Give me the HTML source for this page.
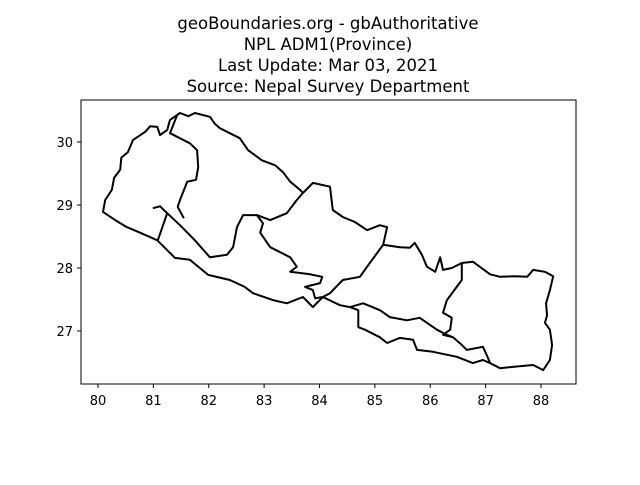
<!DOCTYPE html>
<html><head><meta charset="utf-8"><style>
html,body{margin:0;padding:0;background:#fff}
svg text{font-family:"DejaVu Sans","Liberation Sans",sans-serif;fill:#000}
</style></head><body>
<svg id="chart" width="640" height="480" viewBox="0 0 640 480" xmlns="http://www.w3.org/2000/svg">
<rect width="640" height="480" fill="#fff"/>
<g font-size="16.5" text-anchor="middle">
<text x="328" y="29">geoBoundaries.org - gbAuthoritative</text>
<text x="328" y="50">NPL ADM1(Province)</text>
<text x="328" y="71">Last Update: Mar 03, 2021</text>
<text x="328" y="92">Source: Nepal Survey Department</text>
</g>
<g id="shapes"></g>
<rect x="81" y="100" width="495" height="284" fill="none" stroke="#000" stroke-width="1"/>
<g id="xaxis"></g>
<g id="yaxis"></g>
</svg>
<script>
const xTicks=[80,81,82,83,84,85,86,87,88];
const yTicks=[27,28,29,30];
const outerLon=[80.09,80.13,80.25,80.29,80.40,80.42,80.54,80.63,80.85,80.94,81.07,81.12,81.25,81.30,81.43,81.48,81.63,81.75,82.02,82.11,82.20,82.38,82.56,82.71,82.96,83.20,83.34,83.47,83.65,83.70,83.88,84.19,84.24,84.42,84.64,84.86,85.09,85.22,85.15,85.45,85.63,85.72,85.85,85.94,86.09,86.18,86.23,86.39,86.57,86.77,87.08,87.26,87.53,87.75,87.86,88.07,88.22,88.16,88.09,88.11,88.07,88.16,88.20,88.16,88.04,87.86,87.49,87.26,87.08,86.95,86.77,86.48,86.05,85.76,85.69,85.45,85.22,85.09,84.82,84.70,84.70,84.55,84.37,84.06,83.88,83.70,83.41,83.16,82.80,82.65,82.38,81.99,81.66,81.39,81.30,81.07,80.76,80.52,80.31];
const outerLat=[28.89,29.08,29.24,29.43,29.56,29.75,29.84,30.03,30.16,30.25,30.24,30.11,30.19,30.35,30.43,30.46,30.41,30.46,30.40,30.29,30.22,30.14,30.06,29.87,29.71,29.63,29.52,29.37,29.24,29.19,29.35,29.29,28.92,28.81,28.73,28.60,28.68,28.65,28.37,28.33,28.32,28.40,28.21,28.02,27.94,28.17,27.97,28.00,28.08,28.10,27.90,27.86,27.87,27.86,27.97,27.94,27.87,27.65,27.44,27.25,27.13,27.02,26.78,26.54,26.38,26.46,26.43,26.41,26.49,26.54,26.49,26.59,26.67,26.70,26.86,26.89,26.81,26.90,27.02,27.06,27.33,27.38,27.41,27.54,27.38,27.54,27.44,27.49,27.60,27.70,27.81,27.89,28.13,28.16,28.24,28.44,28.56,28.65,28.76];
const borderSudKarLon=[81.43,81.30,81.66,81.79,81.81,81.77,81.61,81.48,81.44,81.55];
const borderSudKarLat=[30.43,30.14,29.98,29.87,29.60,29.40,29.37,29.08,28.97,28.79];
const borderSudLumLon=[80.99,81.12,81.25,81.08];
const borderSudLumLat=[28.95,28.98,28.87,28.44];
const borderKarLumLon=[81.25,81.48,81.75,82.02,82.33,82.44,82.51,82.62,82.87,83.11,83.41,83.59,83.70];
const borderKarLumLat=[28.87,28.68,28.44,28.17,28.21,28.33,28.65,28.84,28.84,28.76,28.87,29.08,29.19];
const borderGanLumLon=[82.87,82.98,82.93,83.11,83.47,83.59,83.47,83.83,84.05,84.01,83.74,83.88,83.92,84.06];
const borderGanLumLat=[28.84,28.71,28.56,28.33,28.17,28.02,27.94,27.90,27.86,27.76,27.70,27.65,27.52,27.54];
const borderGanBagLon=[85.15,84.86,84.73,84.42,84.19,84.06];
const borderGanBagLat=[28.37,28.02,27.86,27.81,27.60,27.54];
const borderBagMadLon=[84.55,84.79,85.09,85.27,85.58,85.81,86.12,86.30,86.41];
const borderBagMadLat=[27.38,27.44,27.33,27.22,27.17,27.21,27.02,26.94,26.90];
const borderKoshiLon=[86.57,86.57,86.30,86.23,86.39,86.36,86.23,86.41,86.57,86.66,86.95,87.02,87.08];
const borderKoshiLat=[28.08,27.81,27.49,27.29,27.21,27.02,26.94,26.90,26.78,26.70,26.75,26.62,26.49];

const NS='http://www.w3.org/2000/svg';
function xs(v){return 98+(v-80)*55.375;}
function ys(v){return 142-(v-30)*63;}
function pts(lo,la){return lo.map((v,i)=>xs(v).toFixed(1)+','+ys(la[i]).toFixed(1)).join(' ');}
const g=document.getElementById('shapes');
function addLine(lo,la,closed,name){
  const el=document.createElementNS(NS,closed?'polygon':'polyline');
  el.setAttribute('points',pts(lo,la));
  el.setAttribute('fill','none');el.setAttribute('stroke','#000');
  el.setAttribute('stroke-width','2');el.setAttribute('stroke-linejoin','round');
  
  
  g.appendChild(el);
}
addLine(outerLon,outerLat,true,'nepal-outline');
addLine(borderSudKarLon,borderSudKarLat,false,'border-sudurpashchim-karnali');
addLine(borderSudLumLon,borderSudLumLat,false,'border-sudurpashchim-lumbini');
addLine(borderKarLumLon,borderKarLumLat,false,'border-karnali-lumbini');
addLine(borderGanLumLon,borderGanLumLat,false,'border-gandaki-lumbini');
addLine(borderGanBagLon,borderGanBagLat,false,'border-gandaki-bagmati');
addLine(borderBagMadLon,borderBagMadLat,false,'border-bagmati-madhesh');
addLine(borderKoshiLon,borderKoshiLat,false,'border-koshi');
const xa=document.getElementById('xaxis');
xTicks.forEach(t=>{
  const x=xs(t);
  const l=document.createElementNS(NS,'line');
  l.setAttribute('x1',x);l.setAttribute('x2',x);l.setAttribute('y1',384);l.setAttribute('y2',388);
  l.setAttribute('stroke','#000');
  
  
  xa.appendChild(l);
  const tx=document.createElementNS(NS,'text');
  tx.setAttribute('x',x);tx.setAttribute('y',405);tx.setAttribute('font-size','13');tx.setAttribute('text-anchor','middle');
  tx.textContent=t;
  
  
  xa.appendChild(tx);
});
const ya=document.getElementById('yaxis');
yTicks.forEach(t=>{
  const y=ys(t);
  const l=document.createElementNS(NS,'line');
  l.setAttribute('x1',77);l.setAttribute('x2',81);l.setAttribute('y1',y);l.setAttribute('y2',y);
  l.setAttribute('stroke','#000');
  
  
  ya.appendChild(l);
  const tx=document.createElementNS(NS,'text');
  tx.setAttribute('x',73);tx.setAttribute('y',y+5);tx.setAttribute('font-size','13');tx.setAttribute('text-anchor','end');
  tx.textContent=t;
  
  
  ya.appendChild(tx);
});
</script>
</body></html>
